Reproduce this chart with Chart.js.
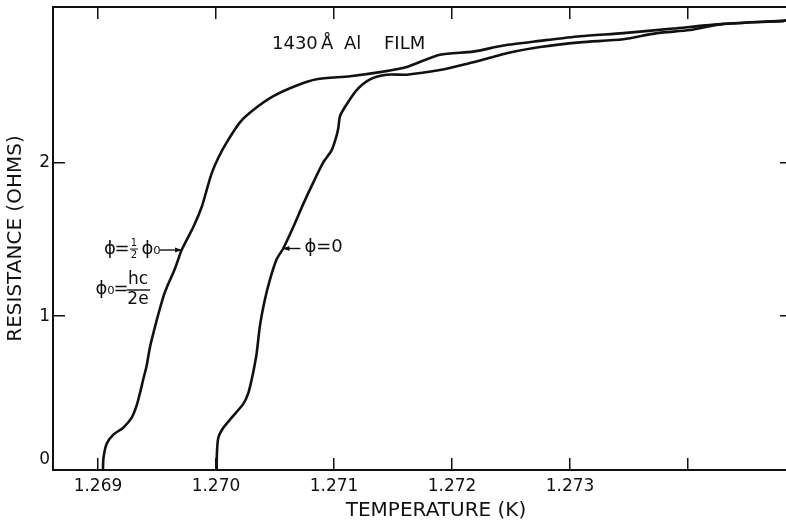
<!DOCTYPE html>
<html>
<head>
<meta charset="utf-8">
<script src="https://cdn.jsdelivr.net/npm/chart.js@4.4.0/dist/chart.umd.min.js"></script>
<style>
  html, body { margin: 0; padding: 0; background: #fff; overflow: hidden; width: 786px; height: 523px; }
  #wrap { position: relative; width: 800px; height: 523px; }
</style>
</head>
<body>
<div id="wrap"><canvas id="c" width="800" height="523"></canvas></div>
<script>
// Resistance transition of a 1430 Å Al film, half flux quantum vs zero flux
const halfFluxT = [1.269042, 1.269047, 1.269074, 1.269130, 1.269214, 1.269286, 1.269328, 1.269356,
  1.269384, 1.269413, 1.269441, 1.269483, 1.269525, 1.269564, 1.269585, 1.269653, 1.269709,
  1.269808, 1.269879, 1.269921, 1.269964, 1.270020, 1.270091, 1.270203, 1.270316, 1.270486,
  1.270684, 1.270853, 1.271136, 1.271418, 1.271616, 1.271898, 1.272181, 1.272435, 1.272746,
  1.273085, 1.273452, 1.273875, 1.274299, 1.274808, 1.274881];
const halfFluxR = [0, 0.08, 0.17, 0.23, 0.275, 0.34, 0.42, 0.50,
  0.59, 0.68, 0.80, 0.93, 1.05, 1.15, 1.19, 1.31, 1.43,
  1.58, 1.71, 1.82, 1.93, 2.03, 2.13, 2.26, 2.34, 2.43,
  2.50, 2.54, 2.56, 2.59, 2.62, 2.70, 2.72, 2.76, 2.79,
  2.82, 2.84, 2.87, 2.90, 2.92, 2.925];

const zeroFluxT = [1.270006, 1.270008, 1.270020, 1.270062, 1.270133, 1.270231, 1.270274, 1.270303,
  1.270322, 1.270345, 1.270373, 1.270415, 1.270458, 1.270514, 1.270570, 1.270655, 1.270740,
  1.270825, 1.270909, 1.270981, 1.271017, 1.271036, 1.271051, 1.271093, 1.271192, 1.271305,
  1.271447, 1.271616, 1.271898, 1.272125, 1.272322, 1.272464, 1.272746, 1.273085, 1.273452,
  1.273735, 1.274017, 1.274299, 1.274808, 1.274881];
const zeroFluxR = [0, 0.11, 0.21, 0.275, 0.34, 0.43, 0.50, 0.59,
  0.66, 0.76, 0.94, 1.11, 1.24, 1.37, 1.44, 1.58, 1.73,
  1.87, 2.00, 2.08, 2.16, 2.22, 2.30, 2.36, 2.47, 2.54,
  2.57, 2.57, 2.60, 2.64, 2.68, 2.71, 2.75, 2.78, 2.80,
  2.84, 2.86, 2.90, 2.92, 2.925];

const xTickValues = [1.269, 1.270, 1.271, 1.272, 1.273, 1.274];
const xTickLabels = ['1.269', '1.270', '1.271', '1.272', '1.273', ''];
const yTickValues = [0, 1, 2];
const yTickLabels = ['0', '1', '2'];
const xRange = [1.268619, 1.274881];
const yRange = [0, 3.01];

const INK = '#111';
const FONT = "'DejaVu Sans', sans-serif";

const toPoints = (xs, ys) => xs.map((x, i) => ({ x: x, y: ys[i] }));

function inwardGrid() {
  return { drawOnChartArea: false, drawTicks: true, tickLength: -12, color: INK, lineWidth: 1.5 };
}
function frameBorder() {
  return { display: true, color: INK, width: 2 };
}
// fixed box sizes, no extra room for overhanging labels
function fixSize(prop, size) {
  return s => {
    s[prop] = size;
    s.paddingTop = 0; s.paddingBottom = 0; s.paddingLeft = 0; s.paddingRight = 0;
  };
}

function arrow(ctx, x1, y1, x2, y2) {
  ctx.beginPath();
  ctx.moveTo(x1, y1);
  ctx.lineTo(x2, y2);
  ctx.stroke();
  const dir = Math.sign(x2 - x1);
  ctx.beginPath();
  ctx.moveTo(x2, y2);
  ctx.lineTo(x2 - dir * 7, y2 - 2.5);
  ctx.lineTo(x2 - dir * 7, y2 + 2.5);
  ctx.closePath();
  ctx.fill();
}

const annotations = {
  id: 'annotations',
  afterDraw(chart) {
    const ctx = chart.ctx;
    const xs = chart.scales.x, ys = chart.scales.y;
    ctx.save();
    ctx.fillStyle = INK;
    ctx.strokeStyle = INK;
    ctx.lineWidth = 1.4;
    ctx.textBaseline = 'middle';

    // heading
    ctx.font = '18px ' + FONT;
    ctx.textAlign = 'left';
    ctx.fillText('1430', 272, 44);
    ctx.fillText('Å', 321, 44);
    ctx.fillText('Al', 344, 44);
    ctx.fillText('FILM', 384, 44);

    // φ = ½ φ0 with arrow onto the half-flux curve
    const tipA = { x: xs.getPixelForValue(1.269712), y: ys.getPixelForValue(1.43) };
    ctx.textAlign = 'center';
    ctx.font = '18px ' + FONT;
    ctx.fillText('ϕ', tipA.x - 72, tipA.y - 1);
    ctx.fillText('=', tipA.x - 60, tipA.y - 1);
    ctx.font = '10px ' + FONT;
    ctx.fillText('1', tipA.x - 48, tipA.y - 7);
    ctx.fillText('2', tipA.x - 48, tipA.y + 5);
    ctx.beginPath();
    ctx.moveTo(tipA.x - 52, tipA.y - 1);
    ctx.lineTo(tipA.x - 44, tipA.y - 1);
    ctx.lineWidth = 1;
    ctx.stroke();
    ctx.font = '18px ' + FONT;
    ctx.fillText('ϕ₀', tipA.x - 31, tipA.y - 1);
    ctx.lineWidth = 1.4;
    arrow(ctx, tipA.x - 22, tipA.y, tipA.x, tipA.y);

    // φ0 = hc / 2e
    ctx.font = '18px ' + FONT;
    ctx.fillText('ϕ₀', 105, 289);
    ctx.fillText('=', 121, 289);
    ctx.font = '17px ' + FONT;
    ctx.fillText('hc', 138, 280);
    ctx.fillText('2e', 138, 300);
    ctx.beginPath();
    ctx.moveTo(127, 290);
    ctx.lineTo(150, 290);
    ctx.lineWidth = 1.4;
    ctx.stroke();

    // φ = 0 with arrow onto the zero-flux curve
    const tipB = { x: xs.getPixelForValue(1.270563), y: ys.getPixelForValue(1.44) };
    arrow(ctx, tipB.x + 18, tipB.y, tipB.x, tipB.y);
    ctx.font = '18px ' + FONT;
    ctx.textAlign = 'left';
    ctx.fillText('ϕ=0', tipB.x + 22, tipB.y - 1);

    // x-axis title
    ctx.font = '20px ' + FONT;
    ctx.textAlign = 'center';
    ctx.fillText('TEMPERATURE (K)', 436, 511);
    ctx.restore();
  }
};

new Chart(document.getElementById('c'), {
  type: 'line',
  data: {
    datasets: [
      {
        label: 'ϕ = ½ϕ₀',
        data: toPoints(halfFluxT, halfFluxR),
        borderColor: INK, borderWidth: 2.6, pointRadius: 0, tension: 0.25, fill: false
      },
      {
        label: 'ϕ = 0',
        data: toPoints(zeroFluxT, zeroFluxR),
        borderColor: INK, borderWidth: 2.6, pointRadius: 0, tension: 0.25, fill: false
      }
    ]
  },
  options: {
    responsive: false,
    animation: false,
    devicePixelRatio: 1,
    layout: { padding: 0 },
    plugins: { legend: { display: false }, tooltip: { enabled: false }, title: { display: false } },
    scales: {
      x: {
        type: 'linear', position: 'bottom', min: xRange[0], max: xRange[1],
        afterBuildTicks: s => { s.ticks = xTickValues.map(v => ({ value: v })); },
        afterFit: fixSize('height', 53),
        border: frameBorder(),
        grid: inwardGrid(),
        ticks: {
          color: INK, font: { family: FONT, size: 17 }, padding: 18, maxRotation: 0, autoSkip: false,
          callback: (v, i) => xTickLabels[i]
        }
      },
      xTop: {
        type: 'linear', position: 'top', min: xRange[0], max: xRange[1],
        afterBuildTicks: s => { s.ticks = xTickValues.map(v => ({ value: v })); },
        afterFit: fixSize('height', 7),
        border: frameBorder(),
        grid: inwardGrid(),
        ticks: { display: false }
      },
      y: {
        type: 'linear', position: 'left', min: yRange[0], max: yRange[1],
        afterBuildTicks: s => { s.ticks = yTickValues.map(v => ({ value: v })); },
        afterFit: fixSize('width', 53),
        border: frameBorder(),
        grid: inwardGrid(),
        ticks: {
          color: INK, font: { family: FONT, size: 17 }, padding: 15, autoSkip: false,
          callback: (v, i) => (i === 0 ? [yTickLabels[i], ''] : yTickLabels[i])
        },
        title: {
          display: true, text: 'RESISTANCE (OHMS)', color: INK,
          font: { family: FONT, size: 20, lineHeight: 1.2 }, padding: { top: 4, bottom: 0 }
        }
      },
      yRight: {
        type: 'linear', position: 'right', min: yRange[0], max: yRange[1],
        afterBuildTicks: s => { s.ticks = [1, 2].map(v => ({ value: v })); },
        afterFit: fixSize('width', 8),
        border: frameBorder(),
        grid: inwardGrid(),
        ticks: { display: false }
      }
    }
  },
  plugins: [annotations]
});
</script>
</body>
</html>
